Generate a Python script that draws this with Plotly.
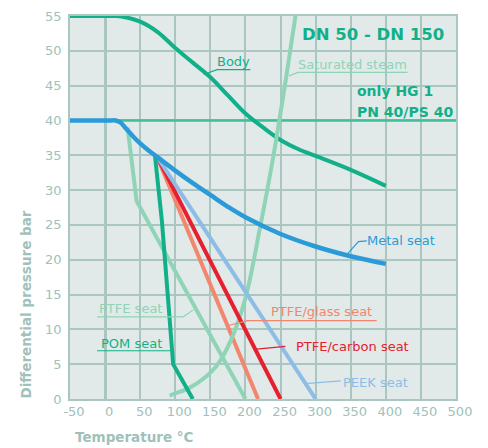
import plotly.graph_objects as go

# ---- data ----
body_x = [-50, 0, 15, 25, 50, 75, 100, 125, 150, 175, 200, 225, 250, 275, 300, 350, 400]
body_y = [55, 55, 55, 54.9, 54.2, 52.7, 50.4, 48.3, 46.2, 43.6, 41.0, 39.0, 37.2, 35.9, 34.9, 32.9, 30.6]

metal_x = [-50, -25, 0, 8, 15, 22, 30, 40, 50, 62, 75, 100, 125, 150, 175, 200, 250, 300, 350, 400]
metal_y = [40, 40, 40, 40, 40, 39.7, 38.8, 37.7, 36.7, 35.7, 34.7, 32.8, 31.0, 29.3, 27.6, 26.1, 23.7, 21.9, 20.5, 19.4]

steam_x = [92, 100, 120, 140, 160, 180, 200, 220, 240, 260, 272]
steam_y = [0.5, 0.8, 1.6, 2.9, 4.9, 8.6, 14.5, 24.2, 35.0, 47.5, 55.5]

ptfe_x = [32, 45, 200]
ptfe_y = [39.0, 28.4, 0]

pom_x = [71, 81, 97, 125]
pom_y = [35, 25.5, 5, 0]

glass_x = [74, 218]
glass_y = [34.8, 0]

carbon_x = [74, 250]
carbon_y = [34.8, 0]

peek_x = [74, 300]
peek_y = [34.8, 0]

limit_x = [-50, 500]
limit_y = [40, 40]

x_ticks = list(range(-50, 501, 50))
x_tick_text = [str(v) for v in x_ticks]
y_ticks = list(range(0, 56, 5))

# ---- colours ----
DKGREEN = "#12b088"
LTGREEN = "#8fd4b7"
BLUE = "#2a9bd8"
RED = "#e6202e"
SALMON = "#f2866e"
LTBLUE = "#8dbde6"
GRID = "#a9c6c0"
BG = "#e1eae8"
TXT = "#a0c1ba"
FONT = "DejaVu Sans"

fig = go.Figure()

def add(x, y, color, width, shape="linear"):
    fig.add_trace(go.Scatter(x=x, y=y, mode="lines",
                             line=dict(color=color, width=width, shape=shape),
                             hoverinfo="skip", showlegend=False))

add(limit_x, limit_y, "#3cc09a", 2.5)
add(body_x, body_y, DKGREEN, 4, "spline")
add(ptfe_x, ptfe_y, LTGREEN, 4)
add(glass_x, glass_y, SALMON, 4)
add(steam_x, steam_y, LTGREEN, 4, "spline")
add(carbon_x, carbon_y, RED, 4)
add(peek_x, peek_y, LTBLUE, 4)
add(pom_x, pom_y, DKGREEN, 4)
add(metal_x, metal_y, BLUE, 4.5, "spline")

# leader / underline lines for labels
leaders = [
    ([140.5, 159.5, 207], [46.6, 47.3, 47.3], DKGREEN),
    ([262, 274.7, 431], [46.4, 46.9, 46.9], LTGREEN),
    ([345, 361, 373], [20.8, 22.6, 22.7], BLUE),
    ([175.7, 203, 387], [10.55, 11.26, 11.26], SALMON),
    ([215.7, 257], [7.15, 7.57], RED),
    ([285.7, 335.7], [2.2, 2.6], LTBLUE),
    ([-11.4, 111.4, 125.7], [11.8, 11.8, 12.8], LTGREEN),
    ([-11.4, 93], [6.93, 6.93], DKGREEN),
]
for lx, ly, c in leaders:
    fig.add_trace(go.Scatter(x=lx, y=ly, mode="lines", line=dict(color=c, width=1.2),
                             hoverinfo="skip", showlegend=False))

def label(text, x, y, color, size=13, bold=False, xanchor="center"):
    fig.add_annotation(x=x, y=y, text=("<b>%s</b>" % text) if bold else text,
                       showarrow=False, xanchor=xanchor, yanchor="middle",
                       font=dict(family=FONT, size=size, color=color))

label("Body", 183, 48.5, DKGREEN)
label("Saturated steam", 352, 48.1, LTGREEN)
label("DN 50 - DN 150", 382, 52.4, DKGREEN, size=16.5, bold=True)
label("only HG 1", 356, 44.2, DKGREEN, size=14, bold=True, xanchor="left")
label("PN 40/PS 40", 356, 41.2, DKGREEN, size=14, bold=True, xanchor="left")
label("Metal seat", 421, 22.8, BLUE)
label("PTFE/glass seat", 309, 12.6, SALMON)
label("PTFE/carbon seat", 353, 7.6, RED)
label("PEEK seat", 386, 2.3, LTBLUE)
label("PTFE seat", 36, 13.0, LTGREEN)
label("POM seat", 37, 7.9, DKGREEN)

# axis titles
fig.add_annotation(xref="paper", yref="paper", x=0.008, y=-0.074, xanchor="left", yanchor="top",
                   text="<b>Temperature °C</b>", showarrow=False,
                   font=dict(family=FONT, size=13.5, color=TXT))
fig.add_annotation(xref="paper", yref="paper", x=-0.113, y=-0.003, xanchor="center", yanchor="bottom",
                   text="<b>Differential pressure bar</b>", textangle=-90, showarrow=False,
                   font=dict(family=FONT, size=13.5, color=TXT))

axis_common = dict(showgrid=True, gridcolor=GRID, gridwidth=1.5,
                   showline=True, linecolor=GRID, linewidth=1.5, mirror=True,
                   automargin=False, ticklabeloverflow="allow",
                   ticks="", tickfont=dict(family=FONT, size=13, color=TXT))

fig.update_layout(
    width=488, height=448,
    margin=dict(l=62, r=40, t=8, b=57),
    paper_bgcolor="white", plot_bgcolor=BG,
    xaxis=dict(range=[-50, 500], tickvals=x_ticks, ticktext=x_tick_text, ticklabelshift=4,
               zeroline=True, zerolinecolor=GRID, zerolinewidth=2.5, **axis_common),
    yaxis=dict(range=[0, 55], tickvals=y_ticks, ticklabelstandoff=4,
               zeroline=False, **axis_common),
    showlegend=False,
)

fig.write_html("out.html")
